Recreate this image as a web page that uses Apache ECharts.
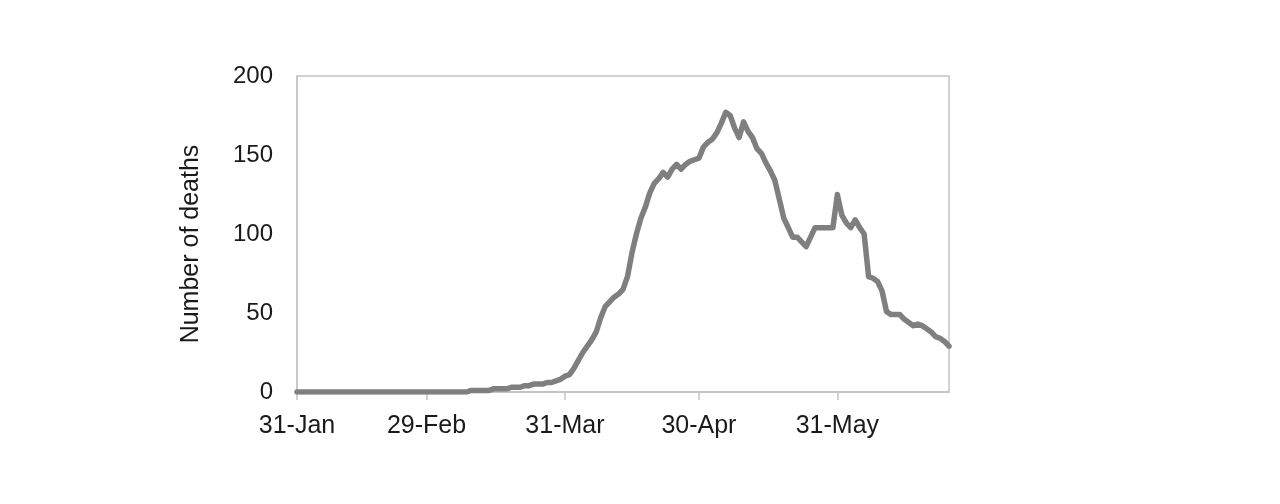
<!DOCTYPE html>
<html>
<head>
<meta charset="utf-8">
<script src="https://cdn.jsdelivr.net/npm/echarts@6/dist/echarts.min.js"></script>
<style>
html,body{margin:0;padding:0;background:#fff;}
#chart{width:1280px;height:504px;}
</style>
</head>
<body>
<div id="chart"></div>
<script>
// Daily deaths, one value per day from 31-Jan to 25-Jun
const deaths = [
  0,0,0,0,0,0,0,0,0,0,
  0,0,0,0,0,0,0,0,0,0,
  0,0,0,0,0,0,0,0,0,0,
  0,0,0,0,0,0,0,0,0,1,
  1,1,1,1,2,2,2,2,3,3,
  3,4,4,5,5,5,6,6,7,8,
  10,11,15,20,25,29,33,38,47,54,
  57,60,62,65,73,88,100,110,117,126,
  132,135,139,136,141,144,141,144,146,147,
  148,155,158,160,164,170,177,175,167,161,
  171,165,161,154,151,145,140,134,122,110,
  104,98,98,95,92,98,104,104,104,104,
  104,125,112,107,104,109,104,100,73,72,
  70,64,51,49,49,49,46,44,42,43,
  42,40,38,35,34,32,29
];
const startDate = [2020, 0, 31];
const tickLabels = ['31-Jan', '29-Feb', '31-Mar', '30-Apr', '31-May'];
const yTicks = [0, 50, 100, 150, 200];

const months = ['Jan','Feb','Mar','Apr','May','Jun','Jul'];
const categories = deaths.map((_, i) => {
  const d = new Date(startDate[0], startDate[1], startDate[2] + i);
  return d.getDate() + '-' + months[d.getMonth()];
});

const chart = echarts.init(document.getElementById('chart'));
const font = '"Liberation Sans", Arial, sans-serif';
chart.setOption({
  animation: false,
  backgroundColor: '#ffffff',
  grid: {
    left: 297, right: 331, top: 76, bottom: 112,
    show: true, borderColor: '#c4c4c4', borderWidth: 1.5,
    containLabel: false
  },
  xAxis: {
    type: 'category',
    data: categories,
    boundaryGap: false,
    axisLine: { lineStyle: { color: '#c4c4c4', width: 2 } },
    axisTick: {
      show: true, length: 8, inside: false,
      interval: (idx, val) => tickLabels.includes(val),
      lineStyle: { color: '#c4c4c4', width: 1.5 }
    },
    axisLabel: {
      interval: (idx, val) => tickLabels.includes(val),
      color: '#1a1a1a', fontSize: 25, fontFamily: font, margin: 22
    },
    splitLine: { show: false }
  },
  yAxis: {
    type: 'value',
    min: yTicks[0], max: yTicks[yTicks.length - 1], interval: 50,
    name: 'Number of deaths',
    nameLocation: 'middle',
    nameGap: 93,
    nameTextStyle: { color: '#1a1a1a', fontSize: 25, fontFamily: font, padding: [0, 20, 0, 0] },
    axisLine: { show: true, lineStyle: { color: '#c4c4c4', width: 1.5 } },
    axisTick: { show: false },
    axisLabel: { color: '#1a1a1a', fontSize: 24, fontFamily: font, margin: 24 },
    splitLine: { show: false }
  },
  series: [{
    type: 'line',
    data: deaths,
    symbol: 'none',
    smooth: false,
    lineStyle: { color: '#7f7f7f', width: 5.5, join: 'round', cap: 'round' }
  }]
});
</script>
</body>
</html>
